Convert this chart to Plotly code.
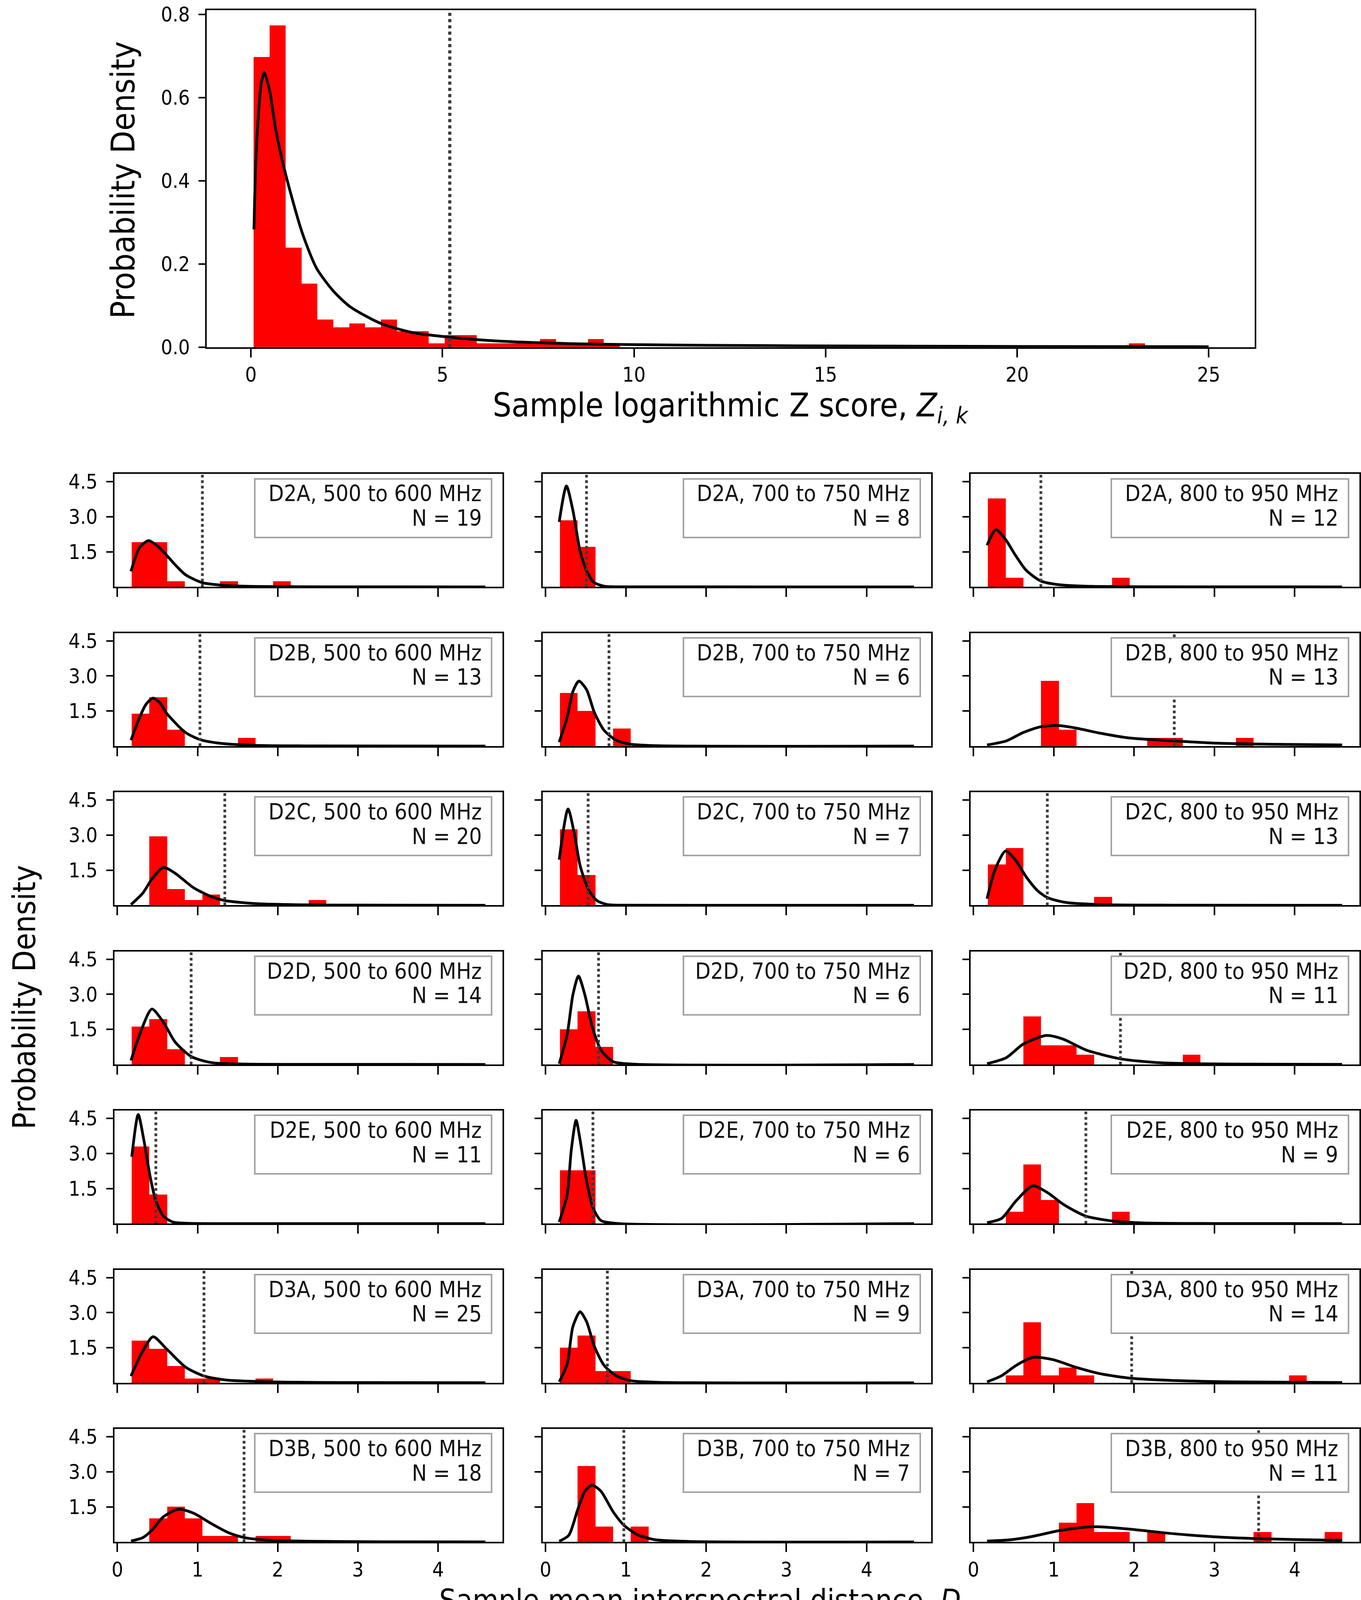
import plotly.graph_objects as go

# ---------------- DATA ----------------
# Top panel: logarithmic Z score histogram (60 bins, counts), fitted curve, threshold
top_bin_start = 0.078
top_bin_width = 0.4154
top_counts = [73, 81, 25, 16, 7, 5, 6, 5, 7, 4, 4, 1, 3, 3, 1, 1, 1, 1, 2, 1,
              1, 2, 1, 0, 0, 0, 0, 0, 0, 0, 0, 0, 0, 0, 0, 0, 0, 0, 0, 0,
              0, 0, 0, 0, 0, 0, 0, 0, 0, 0, 0, 0, 0, 0, 0, 1, 0, 0, 0, 0]
top_N = 252
top_curve_x = [0.078, 0.12, 0.178, 0.272, 0.35, 0.49, 0.644, 0.885, 1.33, 1.71, 2.14,
               2.59, 3.39, 4.22, 5.19, 6.39, 8.33, 10, 12, 15, 20, 25]
top_curve_y = [0.283, 0.43, 0.535, 0.637, 0.66, 0.615, 0.524, 0.423, 0.277, 0.19, 0.136,
               0.097, 0.057, 0.035, 0.024, 0.015, 0.0084, 0.006, 0.0045, 0.003, 0.0017, 0.001]
top_threshold = 5.19
top_xticks = [0, 5, 10, 15, 20, 25]
top_yticks = [0.0, 0.2, 0.4, 0.6, 0.8]

# Small panels: 7 rows (datasets) x 3 columns (bands)
datasets = ["D2A", "D2B", "D2C", "D2D", "D2E", "D3A", "D3B"]
bands = ["500 to 600 MHz", "700 to 750 MHz", "800 to 950 MHz"]
sub_bin_start = 0.18
sub_bin_width = 0.2205

# sample sizes, row-major (row = dataset, col = band)
panel_N = [19, 8, 12,
           13, 6, 13,
           20, 7, 13,
           14, 6, 11,
           11, 6, 9,
           25, 9, 14,
           18, 7, 11]

def _c(d):
    row = [0] * 20
    for k, v in d.items():
        row[k] = v
    return row

panel_counts = [
    _c({0: 8, 1: 8, 2: 1, 5: 1, 8: 1}), _c({0: 5, 1: 3}), _c({0: 10, 1: 1, 7: 1}),
    _c({0: 4, 1: 6, 2: 2, 6: 1}), _c({0: 3, 1: 2, 3: 1}), _c({3: 8, 4: 2, 9: 1, 10: 1, 14: 1}),
    _c({1: 13, 2: 3, 3: 1, 4: 2, 10: 1}), _c({0: 5, 1: 2}), _c({0: 5, 1: 7, 6: 1}),
    _c({0: 5, 1: 6, 2: 2, 5: 1}), _c({0: 2, 1: 3, 2: 1}), _c({2: 5, 3: 2, 4: 2, 5: 1, 11: 1}),
    _c({0: 8, 1: 3}), _c({0: 3, 1: 3}), _c({1: 1, 2: 5, 3: 2, 7: 1}),
    _c({0: 10, 1: 8, 2: 4, 3: 1, 4: 1, 7: 1}), _c({0: 3, 1: 4, 2: 1, 3: 1}), _c({1: 1, 2: 8, 3: 1, 4: 2, 5: 1, 17: 1}),
    _c({1: 4, 2: 6, 3: 4, 4: 1, 5: 1, 7: 1, 8: 1}), _c({1: 5, 2: 1, 4: 1}), _c({4: 2, 5: 4, 6: 1, 7: 1, 9: 1, 15: 1, 19: 1}),
]

panel_threshold = [1.06, 0.51, 0.84,
                   1.03, 0.79, 2.50,
                   1.34, 0.53, 0.92,
                   0.92, 0.66, 1.83,
                   0.48, 0.59, 1.40,
                   1.08, 0.77, 1.97,
                   1.58, 0.975, 3.55]

curve_x = [
    [0.17, 0.28, 0.39, 0.50, 0.61, 0.72, 0.85, 1.06, 1.28, 1.6, 2.2, 3.0, 4.59],
    [0.17, 0.26, 0.34, 0.43, 0.51, 0.6, 0.73, 1.0, 4.59],
    [0.17, 0.28, 0.40, 0.52, 0.66, 0.84, 1.05, 1.4, 2.0, 4.59],
    [0.17, 0.28, 0.36, 0.445, 0.53, 0.61, 0.85, 1.03, 1.28, 1.73, 2.5, 4.59],
    [0.17, 0.27, 0.34, 0.415, 0.51, 0.61, 0.73, 0.88, 1.06, 1.4, 4.59],
    [0.17, 0.41, 0.62, 0.83, 1.05, 1.26, 1.58, 1.93, 2.50, 2.99, 3.7, 4.59],
    [0.17, 0.32, 0.43, 0.575, 0.72, 0.95, 1.17, 1.34, 1.73, 2.28, 3.0, 4.59],
    [0.17, 0.28, 0.36, 0.43, 0.53, 0.64, 0.77, 1.0, 4.59],
    [0.17, 0.27, 0.40, 0.52, 0.66, 0.80, 0.92, 1.15, 1.58, 2.5, 4.59],
    [0.17, 0.28, 0.43, 0.575, 0.72, 0.92, 1.17, 1.6, 2.5, 4.59],
    [0.17, 0.27, 0.34, 0.41, 0.49, 0.58, 0.69, 0.84, 1.1, 4.59],
    [0.17, 0.41, 0.62, 0.91, 1.12, 1.40, 1.83, 2.29, 2.82, 3.6, 4.59],
    [0.18, 0.26, 0.33, 0.41, 0.48, 0.575, 0.69, 0.9, 1.5, 4.59],
    [0.17, 0.27, 0.32, 0.38, 0.43, 0.51, 0.59, 0.69, 0.9, 4.59],
    [0.17, 0.35, 0.53, 0.74, 0.92, 1.13, 1.40, 1.76, 2.12, 3.0, 4.59],
    [0.17, 0.30, 0.445, 0.61, 0.85, 1.08, 1.35, 1.91, 2.8, 4.59],
    [0.17, 0.27, 0.34, 0.43, 0.51, 0.61, 0.73, 0.88, 1.06, 1.4, 4.59],
    [0.17, 0.35, 0.53, 0.74, 0.99, 1.27, 1.59, 1.97, 2.47, 3.18, 4.59],
    [0.17, 0.32, 0.43, 0.575, 0.76, 0.95, 1.17, 1.39, 1.58, 1.91, 2.47, 3.3, 4.59],
    [0.17, 0.29, 0.40, 0.49, 0.58, 0.69, 0.84, 0.975, 1.14, 1.36, 1.8, 4.59],
    [0.17, 0.45, 0.71, 1.06, 1.41, 1.55, 1.94, 2.47, 3.0, 3.55, 4.06, 4.59],
]
curve_y = [
    [0.67, 1.7, 1.98, 1.75, 1.37, 0.95, 0.52, 0.18, 0.08, 0.03, 0.01, 0.004, 0.001],
    [2.78, 4.32, 3.28, 1.53, 0.7, 0.2, 0.03, 0.003, 0.0],
    [1.78, 2.45, 2.03, 1.37, 0.7, 0.25, 0.1, 0.03, 0.008, 0.001],
    [0.25, 1.25, 1.8, 2.05, 1.85, 1.42, 0.58, 0.28, 0.12, 0.03, 0.008, 0.001],
    [0.17, 1.25, 2.33, 2.78, 2.42, 1.42, 0.67, 0.25, 0.08, 0.015, 0.0],
    [0.05, 0.22, 0.58, 0.82, 0.88, 0.78, 0.55, 0.35, 0.22, 0.13, 0.08, 0.05],
    [0.03, 0.53, 1.12, 1.62, 1.37, 0.75, 0.37, 0.2, 0.07, 0.02, 0.006, 0.001],
    [1.95, 4.12, 3.03, 1.7, 0.7, 0.2, 0.03, 0.002, 0.0],
    [0.28, 1.53, 2.32, 1.95, 1.2, 0.62, 0.33, 0.12, 0.03, 0.005, 0.0],
    [0.17, 1.3, 2.37, 1.8, 0.96, 0.34, 0.08, 0.015, 0.003, 0.0005],
    [0.03, 1.3, 2.97, 3.78, 2.97, 1.63, 0.62, 0.12, 0.01, 0.0],
    [0.03, 0.29, 0.87, 1.24, 1.08, 0.62, 0.24, 0.08, 0.03, 0.01, 0.003],
    [2.86, 4.67, 3.58, 1.99, 0.97, 0.32, 0.07, 0.01, 0.001, 0.0],
    [0.07, 1.26, 3.14, 4.42, 3.58, 1.84, 0.68, 0.13, 0.005, 0.0],
    [0.04, 0.22, 0.97, 1.62, 1.33, 0.8, 0.32, 0.1, 0.03, 0.005, 0.0],
    [0.29, 1.25, 1.97, 1.46, 0.67, 0.29, 0.12, 0.04, 0.01, 0.002],
    [0.04, 0.81, 2.4, 3.04, 2.62, 1.54, 0.74, 0.3, 0.09, 0.02, 0.0],
    [0.04, 0.3, 0.74, 1.09, 0.99, 0.67, 0.38, 0.19, 0.1, 0.04, 0.01],
    [0.04, 0.19, 0.5, 1.08, 1.40, 1.23, 0.79, 0.39, 0.19, 0.07, 0.03, 0.008, 0.002],
    [0.03, 0.29, 1.38, 2.17, 2.43, 2.17, 1.3, 0.72, 0.32, 0.1, 0.02, 0.0],
    [0.04, 0.09, 0.22, 0.48, 0.64, 0.65, 0.55, 0.36, 0.22, 0.14, 0.1, 0.07],
]
sub_xticks = [0, 1, 2, 3, 4]
sub_yticks = [1.5, 3.0, 4.5]
sub_yticklabels = ["1.5", "3.0", "4.5"]

# ---------------- STYLE / LAYOUT ----------------
W, H = 3483, 4200
FONT = "DejaVu Sans Condensed, DejaVu Sans"
RED = "#ff0000"
TICKFONT = 52
LEGFONT = 57
TITLEFONT = 84
BOTTOM_TITLEFONT = 76
CURVE_W = 7
DOT_W = 7
DOT_C = "#3a3a3a"
SUB_XR = [-0.035, 4.805]
SUB_YR = [0, 4.83]

fig = go.Figure()

tick_common = dict(showline=True, mirror=True, linecolor="black", linewidth=4,
                   ticks="outside", tickwidth=4, tickcolor="black",
                   showgrid=False, zeroline=False,
                   tickfont=dict(family=FONT, size=TICKFONT, color="black"))
xaxis_common = dict(ticklen=22, **tick_common)
yaxis_common = dict(ticklen=17, ticklabelstandoff=12, ticklabeloverflow="allow", **tick_common)

# Top panel
top_centers = [top_bin_start + (k + 0.5) * top_bin_width for k in range(len(top_counts))]
top_density = [c / (top_N * top_bin_width) for c in top_counts]
fig.add_trace(go.Bar(x=top_centers, y=top_density, width=top_bin_width,
                     marker=dict(color=RED, line=dict(width=0)), xaxis="x", yaxis="y",
                     showlegend=False))
fig.add_trace(go.Scatter(x=top_curve_x, y=top_curve_y, mode="lines",
                         line=dict(color="black", width=CURVE_W, shape="spline", smoothing=0.7),
                         xaxis="x", yaxis="y", showlegend=False))
fig.add_trace(go.Scatter(x=[top_threshold, top_threshold], y=[0, 0.81], mode="lines",
                         line=dict(color=DOT_C, width=DOT_W + 1, dash="dot"),
                         xaxis="x", yaxis="y", showlegend=False))

layout = dict(
    width=W, height=H, margin=dict(l=0, r=0, t=0, b=0),
    paper_bgcolor="white", plot_bgcolor="white",
    barmode="overlay", bargap=0, showlegend=False,
    xaxis=dict(domain=[523 / W, 3212 / W], range=[-1.15, 26.2],
               tickvals=top_xticks, ticktext=[str(v) for v in top_xticks], anchor="y", **xaxis_common),
    yaxis=dict(domain=[1 - 880 / H, 1 - 7 / H], range=[0, 0.81],
               tickvals=top_yticks, ticktext=["%.1f" % v for v in top_yticks], anchor="x", **yaxis_common),
)

col_px = [(286, 1282), (1385, 2382), (2483, 3481)]
row_top0, row_step, row_h = 1208.5, 412.3, 292.5
box_x0, box_x1, box_y0, box_y1 = 0.362, 0.974, 0.437, 0.965
box_bw = 4

annotations = []
for r in range(7):
    for c in range(3):
        i = r * 3 + c
        n = i + 2
        xa, ya = "x%d" % n, "y%d" % n
        centers = [sub_bin_start + (k + 0.5) * sub_bin_width for k in range(20)]
        dens = [cnt / (panel_N[i] * sub_bin_width) for cnt in panel_counts[i]]
        fig.add_trace(go.Bar(x=centers, y=dens, width=sub_bin_width,
                             marker=dict(color=RED, line=dict(width=0)),
                             xaxis=xa, yaxis=ya, showlegend=False))
        fig.add_trace(go.Scatter(x=curve_x[i], y=curve_y[i], mode="lines",
                                 line=dict(color="black", width=CURVE_W, shape="spline", smoothing=0.7),
                                 xaxis=xa, yaxis=ya, showlegend=False))
        # threshold line; the part behind the (opaque) label box is not drawn
        t = panel_threshold[i]
        bx0 = SUB_XR[0] + box_x0 * (SUB_XR[1] - SUB_XR[0])
        bx1 = SUB_XR[0] + box_x1 * (SUB_XR[1] - SUB_XR[0])
        if bx0 <= t <= bx1:
            yb = SUB_YR[0] + box_y0 * (SUB_YR[1] - SUB_YR[0])
            yt = SUB_YR[0] + box_y1 * (SUB_YR[1] - SUB_YR[0])
            lx, ly = [t, t, None, t, t], [SUB_YR[0], yb, None, yt, SUB_YR[1]]
        else:
            lx, ly = [t, t], [SUB_YR[0], SUB_YR[1]]
        fig.add_trace(go.Scatter(x=lx, y=ly, mode="lines", connectgaps=False,
                                 line=dict(color=DOT_C, width=DOT_W, dash="dot"),
                                 xaxis=xa, yaxis=ya, showlegend=False))
        top = row_top0 + r * row_step
        x0, x1 = col_px[c]
        layout["xaxis%d" % n] = dict(domain=[x0 / W, x1 / W], range=SUB_XR, anchor=ya,
                                     tickvals=sub_xticks, ticktext=[str(v) for v in sub_xticks],
                                     showticklabels=(r == 6), **xaxis_common)
        layout["yaxis%d" % n] = dict(domain=[1 - (top + row_h) / H, 1 - top / H], range=SUB_YR,
                                     anchor=xa, tickvals=sub_yticks, ticktext=sub_yticklabels,
                                     showticklabels=(c == 0), **yaxis_common)
        # legend-like label box
        bw_px = (box_x1 - box_x0) * (x1 - x0)
        bh_px = (box_y1 - box_y0) * row_h
        annotations.append(dict(xref=xa + " domain", yref=ya + " domain", x=box_x1, y=box_y1,
                                xanchor="right", yanchor="top", showarrow=False, text=" ",
                                width=bw_px - 2 * box_bw, height=bh_px - 2 * box_bw,
                                borderpad=0, borderwidth=box_bw, bordercolor="#a3a3a3",
                                bgcolor="white",
                                font=dict(family=FONT, size=10, color="white")))
        annotations.append(dict(xref=xa + " domain", yref=ya + " domain", x=0.948, y=0.827,
                                xanchor="right", yanchor="middle", align="right", showarrow=False,
                                text="%s, %s" % (datasets[r], bands[c]),
                                font=dict(family=FONT, size=LEGFONT, color="#111111")))
        annotations.append(dict(xref=xa + " domain", yref=ya + " domain", x=0.948, y=0.612,
                                xanchor="right", yanchor="middle", align="right", showarrow=False,
                                text="N = %d" % panel_N[i],
                                font=dict(family=FONT, size=LEGFONT, color="#111111")))

annotations += [
    dict(xref="paper", yref="paper", x=1867 / W, y=1 - 1036 / H, showarrow=False,
         xanchor="center", yanchor="middle",
         text="Sample logarithmic Z score, <i>Z</i><sub><i>i, k</i></sub>",
         font=dict(family=FONT, size=TITLEFONT, color="black")),
    dict(xref="paper", yref="paper", x=308 / W, y=1 - 447 / H, showarrow=False,
         xanchor="center", yanchor="middle", textangle=-90, text="Probability Density",
         font=dict(family=FONT, size=TITLEFONT, color="black")),
    dict(xref="paper", yref="paper", x=54 / W, y=1 - 2563 / H, showarrow=False,
         xanchor="center", yanchor="middle", textangle=-90, text="Probability Density",
         font=dict(family=FONT, size=80, color="black")),
    dict(xref="paper", yref="paper", x=1826 / W, y=1 - 4131 / H, showarrow=False,
         xanchor="center", yanchor="middle",
         text="Sample mean interspectral distance, <i>D</i><sub><i>i, k</i></sub>",
         font=dict(family=FONT, size=BOTTOM_TITLEFONT, color="black")),
]

layout["annotations"] = annotations
fig.update_layout(**layout)
fig.write_html("out.html", config={"displayModeBar": False},
               post_script="document.body.style.margin='0px';document.body.style.overflow='hidden';")
